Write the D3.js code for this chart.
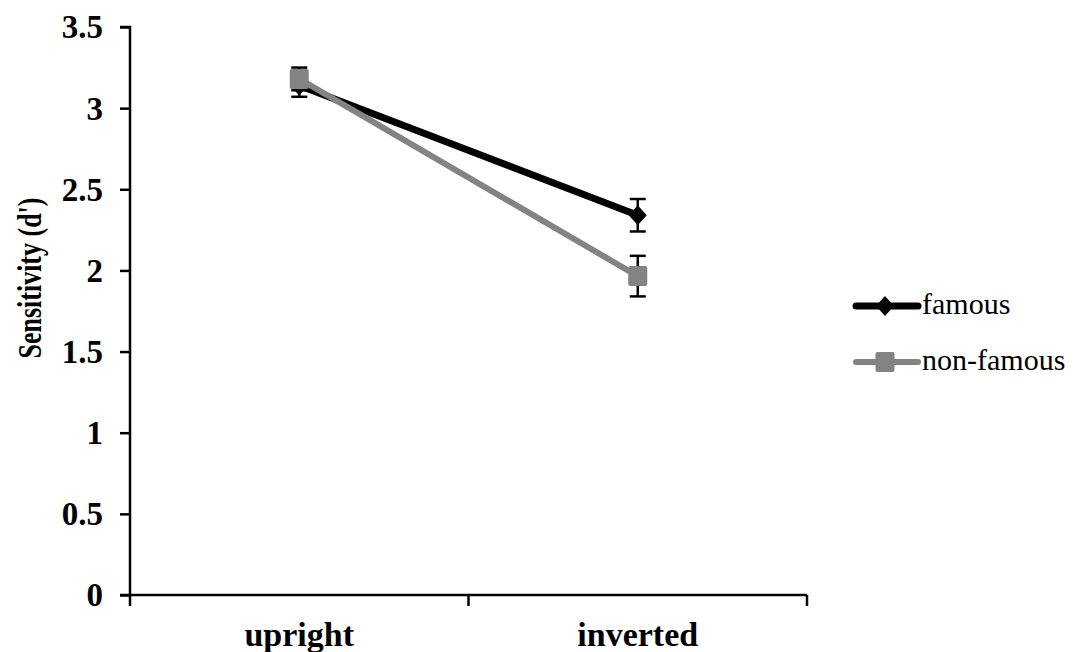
<!DOCTYPE html>
<html>
<head>
<meta charset="utf-8">
<script src="https://cdn.jsdelivr.net/npm/d3@7"></script>
<style>
  body { margin: 0; background: #fff; }
  svg { display: block; }
</style>
</head>
<body>
<svg id="chart" width="1090" height="652"></svg>
<script>
// data
const conditions = ["upright", "inverted"];
const famous = [3.14, 2.34];
const famousErr = [0.07, 0.10];
const nonFamous = [3.18, 1.965];
const nonFamousErr = [0.07, 0.125];
const yTicks = [0, 0.5, 1, 1.5, 2, 2.5, 3, 3.5];

const series = [
  { name: "famous", values: famous, err: famousErr, color: "#000", width: 7, shape: "diamond" },
  { name: "non-famous", values: nonFamous, err: nonFamousErr, color: "#838383", width: 6, shape: "square" }
];

const svg = d3.select("#chart");
const plotLeft = 130, plotRight = 807, plotTop = 27, plotBottom = 595;
const serif = "'Liberation Serif', 'Times New Roman', serif";

const x = d3.scaleBand().domain(conditions).range([plotLeft, plotRight]).padding(0);
const y = d3.scaleLinear().domain([0, 3.5]).range([plotBottom, plotTop]);

// y axis
const yAxis = svg.append("g")
  .attr("transform", `translate(${plotLeft},0)`)
  .call(d3.axisLeft(y).tickValues(yTicks).tickSize(10).tickPadding(17)
    .tickFormat(d => d));
yAxis.select(".domain").attr("stroke", "#000").attr("stroke-width", 2.5).attr("d", `M-10,${plotTop}H0V${plotBottom}`);
yAxis.selectAll(".tick line").attr("stroke", "#000").attr("stroke-width", 2.5);
yAxis.selectAll(".tick text")
  .attr("font-family", serif)
  .attr("font-weight", "bold")
  .attr("font-size", 33)
  .attr("dy", "0.33em")
  .attr("fill", "#000");

// x axis
const xAxis = svg.append("g")
  .attr("transform", `translate(0,${plotBottom})`)
  .call(d3.axisBottom(x).tickSize(0));
xAxis.select(".domain").attr("stroke", "#000").attr("stroke-width", 2.5).attr("d", `M${plotLeft - 10},0H${plotRight}`);
xAxis.selectAll(".tick text")
  .attr("y", 51).attr("dy", 0)
  .attr("font-family", serif)
  .attr("font-weight", "bold")
  .attr("font-size", 34)
  .attr("fill", "#000");
// boundary ticks between categories
const bounds = [x(conditions[0]), x(conditions[1]), plotRight];
xAxis.selectAll(".bound").data(bounds).enter().append("line")
  .attr("x1", d => d).attr("x2", d => d)
  .attr("y1", 0).attr("y2", 11)
  .attr("stroke", "#000").attr("stroke-width", 2.5);

// axis title
svg.append("text")
  .attr("transform", `translate(41,278) rotate(-90) scale(1,1.3)`)
  .attr("text-anchor", "middle")
  .attr("font-family", serif)
  .attr("font-weight", "bold")
  .attr("font-size", 26)
  .text("Sensitivity (d')");

const cx = c => x(c) + x.bandwidth() / 2;
const line = d3.line().x((d, i) => cx(conditions[i])).y(d => y(d));

function marker(g, shape, color, px, py) {
  if (shape === "diamond") {
    g.append("path")
      .attr("d", "M0,-10L9,0L0,10L-9,0Z")
      .attr("transform", `translate(${px},${py})`)
      .attr("fill", color);
  } else {
    g.append("rect")
      .attr("x", px - 9.5).attr("y", py - 10)
      .attr("width", 19).attr("height", 20)
      .attr("rx", 2)
      .attr("fill", color);
  }
}

series.forEach(s => {
  const g = svg.append("g");
  g.append("path")
    .datum(s.values)
    .attr("d", line)
    .attr("fill", "none")
    .attr("stroke", s.color)
    .attr("stroke-width", s.width)
    .attr("stroke-linejoin", "round");
  s.values.forEach((v, i) => {
    const px = cx(conditions[i]);
    const y1 = y(v + s.err[i]), y2 = y(v - s.err[i]);
    g.append("line").attr("x1", px).attr("x2", px).attr("y1", y1).attr("y2", y2)
      .attr("stroke", "#000").attr("stroke-width", 2.5);
    [y1, y2].forEach(yy => g.append("line")
      .attr("x1", px - 8).attr("x2", px + 8).attr("y1", yy).attr("y2", yy)
      .attr("stroke", "#000").attr("stroke-width", 2.5));
    marker(g, s.shape, s.color, px, y(v));
  });
});

// legend
const legend = svg.append("g").attr("transform", "translate(856,306)");
series.forEach((s, i) => {
  const lg = legend.append("g").attr("transform", `translate(0,${i * 56})`);
  lg.append("line").attr("x1", 0).attr("x2", 62).attr("y1", 0).attr("y2", 0)
    .attr("stroke", s.color).attr("stroke-width", s.width).attr("stroke-linecap", "round");
  marker(lg, s.shape, s.color, 29, 0);
  lg.append("text")
    .attr("x", 66).attr("y", 8)
    .attr("font-family", serif)
    .attr("font-size", 30)
    .text(s.name);
});
</script>
</body>
</html>
